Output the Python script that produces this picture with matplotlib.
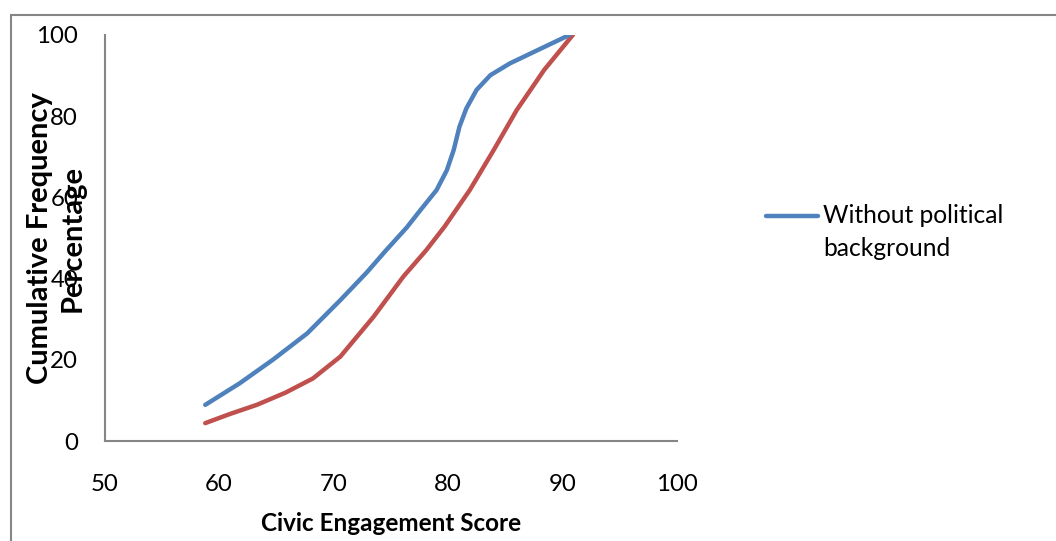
import matplotlib.pyplot as plt
from matplotlib.lines import Line2D
from matplotlib.patches import Rectangle

# Values (x = civic engagement score, y = cumulative %)
without_x = [58.8, 61.8, 64.7, 67.7, 70.6, 72.9, 74.6, 76.4, 77.6, 79.0, 79.9, 80.5, 81.0, 81.6, 82.5, 83.7, 85.4, 87.7, 90.6]
without_y = [8.9, 14.2, 20.0, 26.5, 34.7, 41.5, 47.0, 52.6, 56.9, 61.8, 66.7, 71.7, 77.4, 81.9, 86.5, 90.1, 93.0, 96.1, 100.0]

with_x = [58.8, 61.0, 63.3, 65.8, 68.2, 70.6, 73.5, 76.1, 78.1, 79.7, 81.9, 84.0, 86.0, 88.4, 90.9]
with_y = [4.4, 6.7, 8.9, 11.9, 15.4, 20.8, 30.6, 40.5, 47.0, 52.8, 61.8, 71.7, 81.5, 91.4, 100.0]

x_ticks = [50, 60, 70, 80, 90, 100]
y_ticks = [0, 20, 40, 60, 80, 100]
legend_label = "Without political\nbackground"

BLUE = "#4F81BD"
RED = "#C0504D"
GRAY = "#868686"

plt.rcParams['font.family'] = ['Lato', 'DejaVu Sans']

fig = plt.figure(figsize=(10.56, 5.41), dpi=100)
ax = fig.add_axes([104.5 / 1056, 1 - 441 / 541, (677 - 104.5) / 1056, (441 - 35) / 541])

ax.plot(with_x, with_y, color=RED, lw=3.2, solid_capstyle='round', solid_joinstyle='round')
ax.plot(without_x, without_y, color=BLUE, lw=3.2, solid_capstyle='round', solid_joinstyle='round')

ax.set_xlim(50, 100)
ax.set_ylim(0, 100)
ax.set_xticks(x_ticks)
ax.set_yticks(y_ticks)
ax.tick_params(length=0, labelsize=17.3, labelcolor='black')
ax.tick_params(axis='x', pad=24)
ax.tick_params(axis='y', pad=19)
for s in ['top', 'right']:
    ax.spines[s].set_visible(False)
for s in ['left', 'bottom']:
    ax.spines[s].set_color(GRAY)
    ax.spines[s].set_linewidth(1.5)

ax.set_xlabel("Civic Engagement Score", fontsize=17.5, fontweight='bold', labelpad=12)
fig.text(56 / 1056, 1 - 238 / 541, "Cumulative Frequency\nPercentage", rotation=90,
         ha='center', va='center', fontsize=21, fontweight='bold', linespacing=1.3)

# legend (only the blue series is shown in the reference)
fig.add_artist(Line2D([766 / 1056, 818 / 1056], [1 - 216 / 541] * 2, color=BLUE, lw=3.2,
                      solid_capstyle='round'))
fig.text(823 / 1056, 1 - 204 / 541, legend_label, ha='left', va='top', fontsize=17.7,
         linespacing=1.55)

# outer chart border
fig.add_artist(Rectangle((11 / 1056, -0.05), 1.2, 1 - 15 / 541 + 0.05, transform=fig.transFigure,
                         fill=False, edgecolor=GRAY, lw=1.5))

fig.savefig("out.png", dpi=100)
